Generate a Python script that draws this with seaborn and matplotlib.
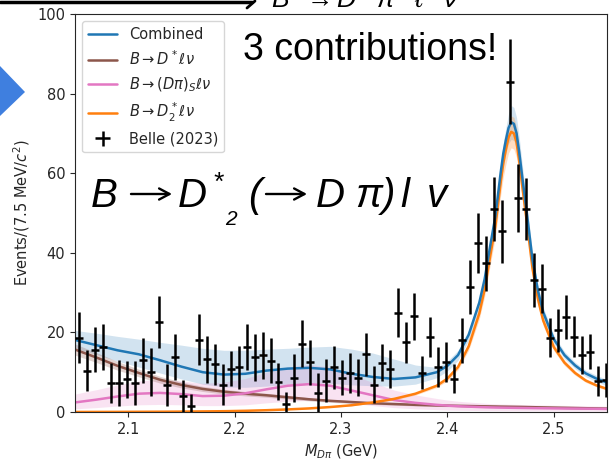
import numpy as np
import pandas as pd
import matplotlib
matplotlib.use("Agg")
import matplotlib.pyplot as plt
import seaborn as sns
from matplotlib.patches import Polygon, FancyArrowPatch, ArrowStyle
from matplotlib.lines import Line2D

# ---------------- data ----------------
bin_low = 2.05
bin_width = 0.0075

belle_counts = [18.7, 10.4, 15.7, 16.4, 7.3, 7.3, 8.2, 7.3, 13.0, 10.1,
                22.6, 6.8, 13.9, 4.0, 1.5, 18.2, 13.2, 12.0, 6.9, 10.9,
                11.2, 16.4, 13.7, 14.3, 12.9, 7.6, 2.0, 8.6, 17.2, 12.5,
                4.8, 7.8, 11.2, 8.6, 9.7, 8.6, 14.5, 6.9, 12.4, 10.8,
                25.0, 17.5, 24.1, 9.9, 18.9, 11.4, 12.6, 8.4, 18.0, 31.4,
                42.4, 37.4, 51.0, 45.4, 83.0, 53.7, 51.0, 33.2, 31.0, 18.7,
                20.6, 23.9, 18.9, 14.3, 15.1, 7.8, 8.0]
belle_errors = [6.5, 5.2, 5.7, 5.8, 5.0, 5.8, 4.7, 5.6, 5.6, 6.0,
                6.5, 5.2, 5.8, 4.0, 3.1, 6.4, 5.8, 5.2, 5.2, 4.4,
                5.4, 5.8, 5.8, 5.9, 5.6, 4.6, 3.0, 6.0, 5.9, 5.7,
                5.0, 5.4, 5.4, 4.4, 5.0, 4.6, 5.4, 4.6, 4.6, 4.7,
                6.1, 5.2, 5.9, 4.2, 5.0, 5.0, 5.0, 3.6, 5.6, 6.7,
                7.6, 6.9, 8.1, 7.9, 10.7, 8.5, 7.9, 6.7, 6.1, 5.0,
                5.4, 5.6, 5.2, 4.8, 4.4, 3.8, 4.2]

curve_mass = [2.05, 2.07, 2.09, 2.11, 2.13, 2.15, 2.17, 2.19, 2.21, 2.23,
              2.25, 2.27, 2.29, 2.31, 2.33, 2.35, 2.37, 2.39, 2.40, 2.41,
              2.42, 2.43, 2.435, 2.44, 2.445, 2.45, 2.4525, 2.455, 2.4575, 2.46,
              2.4625, 2.465, 2.4675, 2.47, 2.475, 2.48, 2.485, 2.49, 2.50, 2.51,
              2.52, 2.53, 2.54, 2.55]

combined = [18.1, 16.8, 15.5, 14.5, 13.0, 11.4, 10.0, 9.4, 9.6, 10.4,
            10.9, 11.1, 10.7, 9.6, 8.8, 8.3, 8.7, 10.0, 11.6, 14.3,
            19.4, 27.5, 33.4, 41.4, 49.0, 60.0, 64.9, 68.4, 71.4, 72.8,
            72.4, 70.0, 65.3, 59.8, 49.2, 38.2, 30.6, 25.1, 18.3, 14.3,
            11.7, 9.7, 8.4, 7.4]
combined_lo = [16.0, 14.5, 12.8, 11.3, 9.8, 8.3, 7.0, 6.3, 6.2, 6.5,
               7.0, 7.3, 7.2, 6.8, 6.6, 6.5, 7.0, 8.6, 10.3, 13.0,
               18.0, 26.0, 31.8, 39.5, 46.5, 57.0, 61.5, 65.0, 67.5, 68.5,
               68.2, 66.0, 61.5, 56.5, 47.0, 36.5, 29.2, 24.0, 17.3, 13.4,
               10.9, 8.9, 7.6, 6.6]
combined_hi = [20.5, 19.8, 19.0, 18.3, 17.5, 16.8, 16.0, 15.5, 15.5, 15.8,
               16.0, 16.3, 16.5, 15.8, 14.8, 13.3, 11.8, 11.2, 12.8, 15.5,
               20.5, 28.8, 34.8, 43.0, 51.0, 62.5, 67.5, 71.5, 75.0, 77.0,
               76.5, 74.0, 69.0, 63.0, 51.5, 40.0, 32.0, 26.3, 19.3, 15.2,
               12.5, 10.5, 9.2, 8.2]

dstar = [15.7, 13.7, 11.6, 9.8, 8.1, 6.8, 5.8, 5.1, 4.6, 4.2,
         3.7, 3.2, 2.8, 2.5, 2.2, 2.0, 1.8, 1.65, 1.6, 1.55,
         1.5, 1.45, 1.42, 1.4, 1.38, 1.35, 1.34, 1.33, 1.32, 1.31,
         1.3, 1.29, 1.28, 1.27, 1.24, 1.21, 1.18, 1.15, 1.1, 1.05,
         1.0, 0.95, 0.9, 0.85]
dstar_err = [1.4, 1.25, 1.1, 0.95, 0.85, 0.75, 0.65, 0.6, 0.55, 0.5,
             0.45, 0.4, 0.37, 0.34, 0.31, 0.29, 0.27, 0.25, 0.25, 0.24,
             0.24, 0.23, 0.23, 0.23, 0.22, 0.22, 0.22, 0.22, 0.22, 0.22,
             0.21, 0.21, 0.21, 0.21, 0.21, 0.2, 0.2, 0.2, 0.2, 0.19,
             0.19, 0.18, 0.18, 0.17]

dpis = [2.4, 3.1, 3.9, 4.6, 4.8, 4.5, 4.0, 4.1, 4.7, 5.7,
        6.6, 7.0, 6.6, 5.4, 4.2, 3.0, 2.3, 1.8, 1.6, 1.45,
        1.35, 1.25, 1.2, 1.16, 1.13, 1.1, 1.09, 1.08, 1.07, 1.06,
        1.05, 1.04, 1.03, 1.02, 1.0, 0.98, 0.96, 0.94, 0.91, 0.88,
        0.86, 0.84, 0.81, 0.78]
dpis_lo = [0.8, 1.1, 1.5, 1.8, 1.9, 1.8, 1.6, 1.6, 1.8, 2.3,
           2.7, 2.9, 2.7, 2.2, 1.6, 1.1, 0.8, 0.6, 0.5, 0.45,
           0.4, 0.35, 0.33, 0.32, 0.31, 0.3, 0.3, 0.3, 0.3, 0.29,
           0.29, 0.29, 0.28, 0.28, 0.28, 0.27, 0.27, 0.26, 0.25, 0.24,
           0.23, 0.22, 0.21, 0.2]
dpis_hi = [4.5, 5.6, 6.8, 7.8, 8.2, 7.8, 7.2, 7.5, 8.4, 10.0,
           11.3, 11.9, 11.3, 9.4, 7.4, 5.5, 4.3, 3.4, 3.0, 2.7,
           2.5, 2.3, 2.2, 2.1, 2.05, 2.0, 2.0, 1.98, 1.96, 1.95,
           1.94, 1.92, 1.9, 1.88, 1.85, 1.82, 1.78, 1.75, 1.7, 1.65,
           1.6, 1.55, 1.5, 1.45]

d2star = [0.01, 0.02, 0.03, 0.05, 0.07, 0.1, 0.15, 0.2, 0.3, 0.45,
          0.65, 0.9, 1.25, 1.7, 2.4, 3.3, 4.6, 6.6, 8.4, 11.3,
          16.5, 24.8, 30.8, 38.8, 46.5, 57.5, 62.5, 66.0, 69.0, 70.4,
          70.0, 67.7, 63.0, 57.5, 47.0, 36.0, 28.5, 23.0, 16.3, 12.4,
          9.8, 7.9, 6.7, 5.8]
d2star_err = [0.01, 0.01, 0.01, 0.01, 0.01, 0.02, 0.02, 0.03, 0.04, 0.05,
              0.06, 0.08, 0.1, 0.14, 0.18, 0.25, 0.33, 0.45, 0.55, 0.7,
              0.95, 1.4, 1.75, 2.2, 2.6, 3.2, 3.5, 3.7, 3.9, 4.0,
              4.0, 3.8, 3.5, 3.2, 2.6, 2.0, 1.6, 1.3, 0.9, 0.7,
              0.55, 0.45, 0.38, 0.33]

x_ticks = [2.1, 2.2, 2.3, 2.4, 2.5]
y_ticks = [0, 20, 40, 60, 80, 100]

labels = ["Combined", r"$B\rightarrow D^*\ell\nu$", r"$B\rightarrow(D\pi)_S\ell\nu$",
          r"$B\rightarrow D_2^*\ell\nu$", "Belle (2023)"]

# ---------------- style ----------------
sns.set_style("ticks")
plt.rcParams.update({
    "font.family": ["DejaVu Sans"],
    "mathtext.fontset": "dejavusans",
    "mathtext.rm": "Liberation Sans",
    "mathtext.it": "Liberation Sans:italic",
    "mathtext.bf": "Liberation Sans:bold",
    "mathtext.sf": "Liberation Sans",
})

C_BLUE, C_BROWN, C_PINK, C_ORANGE = "#1f77b4", "#8c564b", "#e377c2", "#ff7f0e"
W, H = 616, 466

fig = plt.figure(figsize=(6.16, 4.66), dpi=100)
ax = fig.add_axes([75 / W, 54 / H, 532 / W, 398 / H])

mass = np.array(curve_mass)
ds, dse = np.array(dstar), np.array(dstar_err)
d2, d2e = np.array(d2star), np.array(d2star_err)

# uncertainty bands
ax.fill_between(mass, combined_lo, combined_hi, color=C_BLUE, alpha=0.2, lw=0)
ax.fill_between(mass, dpis_lo, dpis_hi, color=C_PINK, alpha=0.2, lw=0)
ax.fill_between(mass, ds - dse, ds + dse, color=C_BROWN, alpha=0.25, lw=0)
ax.fill_between(mass, d2 - d2e, d2 + d2e, color=C_ORANGE, alpha=0.25, lw=0)

lw = 1.8
sns.lineplot(x=mass, y=dstar, ax=ax, color=C_BROWN, lw=lw, sort=False, estimator=None)
sns.lineplot(x=mass, y=dpis, ax=ax, color=C_PINK, lw=lw, sort=False, estimator=None)
sns.lineplot(x=mass, y=d2star, ax=ax, color=C_ORANGE, lw=lw, sort=False, estimator=None)
sns.lineplot(x=mass, y=combined, ax=ax, color=C_BLUE, lw=lw, sort=False, estimator=None)

centers = bin_low + bin_width * (np.arange(len(belle_counts)) + 0.5)
eb = ax.errorbar(centers, belle_counts, yerr=belle_errors, xerr=bin_width / 2,
                 fmt="none", ecolor="black", elinewidth=1.8, capsize=0, zorder=5)

handles = [Line2D([], [], color=C_BLUE, lw=lw),
           Line2D([], [], color=C_BROWN, lw=lw),
           Line2D([], [], color=C_PINK, lw=lw),
           Line2D([], [], color=C_ORANGE, lw=lw),
           eb]
ax.legend(handles=handles, labels=labels, loc="upper left", fontsize=10.5,
          framealpha=0.8, edgecolor="0.8", fancybox=True)

ax.set_xlim(2.05, 2.55)
ax.set_ylim(0, 100)
ax.set_xticks(x_ticks)
ax.set_yticks(y_ticks)
ax.tick_params(labelsize=10.5)
ax.set_xlabel(r"$M_{D\pi}$ (GeV)", fontsize=10.5)
ax.set_ylabel(r"Events/(7.5 MeV/$c^2$)", fontsize=10.5)

# ---------------- slide annotations ----------------
def ftext(px, py, s, **kw):
    return fig.text(px / W, 1 - py / H, s, ha="left", va="baseline", color="black", **kw)

def farrow(x0, x1, py):
    a = FancyArrowPatch((x0 / W, 1 - py / H), (x1 / W, 1 - py / H),
                        transform=fig.transFigure,
                        arrowstyle=ArrowStyle("->", head_length=0.75, head_width=0.4),
                        mutation_scale=10, lw=1.7, color="black",
                        shrinkA=0, shrinkB=0)
    fig.add_artist(a)

ftext(243, 60, "3 contributions!", fontsize=27, family="Liberation Sans")

big = dict(fontsize=29, family="Liberation Sans", style="italic")
ftext(91, 207, "B", **big)
farrow(131, 172, 194)
ftext(178, 207, "D", **big)
ftext(212, 190, "*", fontsize=19, family="Liberation Sans", style="italic")
ftext(225, 225, "2", fontsize=15, family="Liberation Sans", style="italic")
ftext(248, 207, "(", **big)
farrow(266, 307, 194)
ftext(316, 207, "D", **big)
ftext(355, 207, "\u03c0", **big)
ftext(382, 207, ")", **big)
ftext(400, 207, "l", **big)
ftext(427, 207, "v", **big)

ftext(271, 7, r"$B^{-}\rightarrow D^{-}\ \pi^{+}\ \ell^{+}\ \nu$",
      fontsize=19, math_fontfamily="custom")
fig.add_artist(Line2D([0, 252 / W], [1 - 2 / H, 1 - 2 / H],
                      transform=fig.transFigure, color="black", lw=2.5))
fig.add_artist(Line2D([247 / W, 255 / W], [1 - 8 / H, 1 - 1 / H],
                      transform=fig.transFigure, color="black", lw=2.0))
fig.add_artist(Polygon([[0, 1 - 66 / H], [25 / W, 1 - 92 / H], [0, 1 - 116 / H]],
                       closed=True, transform=fig.transFigure,
                       facecolor="#3f7fdf", edgecolor="none"))

fig.savefig("out.png", dpi=100)
